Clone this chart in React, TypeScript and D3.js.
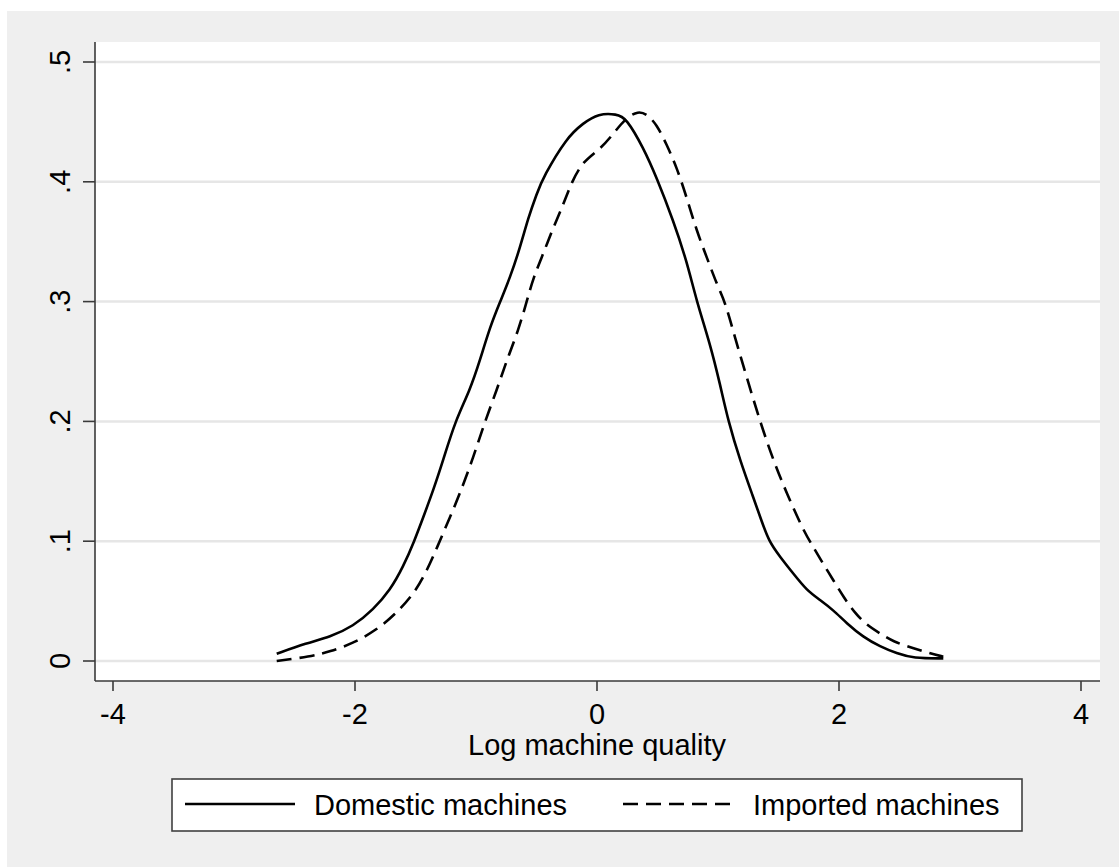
import React from 'react';
import * as d3 from 'd3';

// kernel density estimates
const domesticX = [-2.647, -2.40, -2.207, -2.014, -1.849, -1.71, -1.60, -1.51, -1.436, -1.353, -1.27, -1.173, -1.05, -0.967, -0.884, -0.80, -0.719, -0.636, -0.568, -0.498, -0.444, -0.25, -0.113, 0.011, 0.163, 0.24, 0.383, 0.493, 0.631, 0.741, 0.824, 0.934, 1.017, 1.085, 1.182, 1.29, 1.36, 1.42, 1.512, 1.622, 1.733, 1.843, 1.953, 2.064, 2.20, 2.34, 2.477, 2.614, 2.862];
const domesticY = [0.006, 0.015, 0.020, 0.029, 0.043, 0.059, 0.079, 0.100, 0.120, 0.1425, 0.168, 0.200, 0.226, 0.251, 0.279, 0.300, 0.320, 0.345, 0.370, 0.390, 0.404, 0.437, 0.449, 0.457, 0.4565, 0.4535, 0.4285, 0.4035, 0.3675, 0.334, 0.300, 0.265, 0.231, 0.200, 0.1675, 0.137, 0.117, 0.100, 0.087, 0.073, 0.059, 0.051, 0.0425, 0.0314, 0.020, 0.012, 0.0064, 0.0022, 0.0022];

const importedX = [-2.647, -2.372, -2.207, -2.014, -1.821, -1.655, -1.49, -1.38, -1.30, -1.215, -1.132, -1.022, -0.926, -0.829, -0.746, -0.650, -0.581, -0.526, -0.444, -0.361, -0.278, -0.209, -0.113, 0.025, 0.135, 0.24, 0.341, 0.411, 0.493, 0.576, 0.659, 0.741, 0.824, 0.907, 1.0, 1.058, 1.14, 1.237, 1.347, 1.457, 1.568, 1.705, 1.788, 1.870, 1.953, 2.036, 2.132, 2.229, 2.34, 2.45, 2.614, 2.752, 2.862];
const importedY = [0.0, 0.0036, 0.0078, 0.0148, 0.026, 0.040, 0.059, 0.081, 0.100, 0.120, 0.140, 0.170, 0.200, 0.226, 0.251, 0.276, 0.300, 0.320, 0.340, 0.362, 0.381, 0.400, 0.4175, 0.427, 0.440, 0.4535, 0.459, 0.4565, 0.448, 0.431, 0.412, 0.387, 0.359, 0.337, 0.312, 0.300, 0.270, 0.237, 0.200, 0.1675, 0.140, 0.109, 0.095, 0.081, 0.0675, 0.0536, 0.040, 0.030, 0.023, 0.016, 0.0106, 0.0064, 0.0036];

const xTicks = [-4, -2, 0, 2, 4];
const yTicks = [0, 0.1, 0.2, 0.3, 0.4, 0.5];
const yTickLabels = ['0', '.1', '.2', '.3', '.4', '.5'];
const legendLabels = ['Domestic machines', 'Imported machines'];

const W = 1119, H = 867;
const FONT = '"Liberation Sans", Arial, sans-serif';

export default function App() {
    const x = d3.scaleLinear().domain([-4, 4]).range([113, 1081]),
        y = d3.scaleLinear().domain([0, 0.5]).range([661, 62]),
        plotLeft = 95, plotRight = 1100, plotTop = 42, plotBottom = 681;

    const line = d3.line<[number, number]>()
        .x(d => x(d[0]))
        .y(d => y(d[1]))
        .curve(d3.curveBasis);

    const domestic = line(domesticX.map((v, i) => [v, domesticY[i]] as [number, number])) || '';
    const imported = line(importedX.map((v, i) => [v, importedY[i]] as [number, number])) || '';

    const dash = '15,8';

    return (
        <svg width={W} height={H} style={{position: 'absolute', left: 0, top: 0}} fontFamily={FONT}>
            <rect x={0} y={0} width={W} height={H} fill="#ffffff"/>
            <rect x={7} y={11} width={W - 7} height={H - 11} fill="#efefef"/>
            <rect x={plotLeft} y={plotTop} width={plotRight - plotLeft} height={plotBottom - plotTop} fill="#ffffff"/>

            {yTicks.map(t => (
                <line key={'g' + t} x1={plotLeft} x2={plotRight} y1={y(t)} y2={y(t)} stroke="#e6e6e6" strokeWidth={2.5}/>
            ))}

            <path d={domestic} fill="none" stroke="#000" strokeWidth={2.6} strokeLinejoin="round"/>
            <path d={imported} fill="none" stroke="#000" strokeWidth={2.6} strokeDasharray={dash}/>

            {/* axes */}
            <line x1={plotLeft} x2={plotLeft} y1={plotTop} y2={plotBottom} stroke="#3a3a3a" strokeWidth={1.6}/>
            <line x1={plotLeft} x2={plotRight} y1={plotBottom} y2={plotBottom} stroke="#3a3a3a" strokeWidth={1.6}/>

            {yTicks.map((t, i) => (
                <g key={'y' + t}>
                    <line x1={83} x2={plotLeft} y1={y(t)} y2={y(t)} stroke="#3a3a3a" strokeWidth={1.6}/>
                    <text transform={`translate(70, ${y(t)}) rotate(-90)`} textAnchor="middle" fontSize={29} fill="#000">
                        {yTickLabels[i]}
                    </text>
                </g>
            ))}

            {xTicks.map(t => (
                <g key={'x' + t}>
                    <line x1={x(t)} x2={x(t)} y1={plotBottom} y2={691} stroke="#3a3a3a" strokeWidth={1.6}/>
                    <text x={x(t)} y={724} textAnchor="middle" fontSize={29} fill="#000">{t}</text>
                </g>
            ))}

            <text x={x(0)} y={755} textAnchor="middle" fontSize={29} fill="#000">Log machine quality</text>

            {/* legend */}
            <rect x={172} y={779} width={850} height={52} fill="#ffffff" stroke="#404040" strokeWidth={1.6}/>
            <line x1={185} x2={295} y1={804} y2={804} stroke="#000" strokeWidth={2.6}/>
            <text x={314} y={815} fontSize={29} fill="#000">{legendLabels[0]}</text>
            <line x1={623} x2={737} y1={804} y2={804} stroke="#000" strokeWidth={2.6} strokeDasharray={dash}/>
            <text x={753} y={815} fontSize={29} fill="#000">{legendLabels[1]}</text>
        </svg>
    );
}
